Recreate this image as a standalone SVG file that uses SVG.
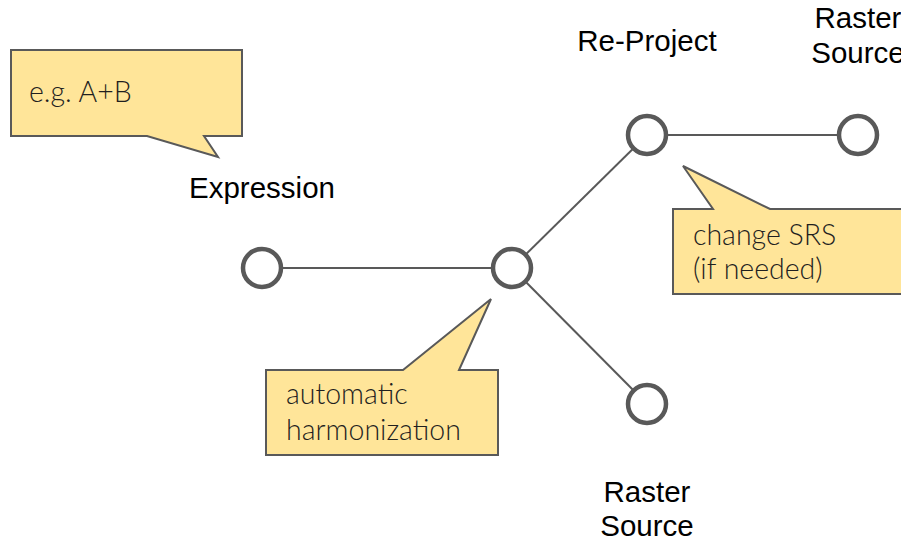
<svg xmlns="http://www.w3.org/2000/svg" width="901" height="541" viewBox="0 0 901 541">
  <style>
    .node { fill: #ffffff; stroke: #595959; stroke-width: 4.5; }
    .edge { stroke: #595959; stroke-width: 2; fill: none; }
    .callout { fill: #ffe599; stroke: #595959; stroke-width: 2; stroke-linejoin: miter; }
    .note { font-family: Lato, "Liberation Sans", sans-serif; font-weight: 300; font-size: 28.5px; fill: #1f1f1f; }
    .label { font-family: "Liberation Sans", Arial, sans-serif; font-size: 29.5px; fill: #000000; text-anchor: middle; }
  </style>
  <rect width="901" height="541" fill="#ffffff"/>

  <!-- connectors -->
  <g id="connectors">
    <line class="edge" x1="262" y1="268" x2="512" y2="268"/>
    <line class="edge" x1="512" y1="268" x2="647" y2="135"/>
    <line class="edge" x1="512" y1="268" x2="647" y2="404"/>
    <line class="edge" x1="647" y1="135" x2="858" y2="135"/>
  </g>

  <!-- nodes -->
  <g id="expression">
    <circle class="node" cx="262" cy="268" r="19"/>
    <text class="label" x="262" y="198">Expression</text>
  </g>
  <g id="harmonize">
    <circle class="node" cx="512" cy="268" r="19"/>
  </g>
  <g id="reproject">
    <circle class="node" cx="647" cy="135" r="19"/>
    <text class="label" x="647" y="51">Re-Project</text>
  </g>
  <g id="raster-top">
    <circle class="node" cx="858" cy="135" r="19"/>
    <text class="label" x="858" y="28">Raster</text>
    <text class="label" x="858" y="63">Source</text>
  </g>
  <g id="raster-bottom">
    <circle class="node" cx="647" cy="404" r="19"/>
    <text class="label" x="647" y="502">Raster</text>
    <text class="label" x="647" y="536">Source</text>
  </g>

  <!-- callouts -->
  <g id="note-expression">
    <path class="callout" d="M11,50 H242 V136 H204 L218,157 L147,136 H11 Z"/>
    <text class="note" x="29" y="102">e.g. A+B</text>
  </g>
  <g id="note-srs">
    <path class="callout" d="M673,209 H713 L683,166 L770,209 H910 V294 H673 Z"/>
    <text class="note" x="693" y="245">change SRS</text>
    <text class="note" x="693" y="279">(if needed)</text>
  </g>
  <g id="note-harmonization">
    <path class="callout" d="M266,370 H403 L491,299 L459,370 H498 V455 H266 Z"/>
    <text class="note" x="286" y="404">automatic</text>
    <text class="note" x="286" y="440">harmonization</text>
  </g>
</svg>
